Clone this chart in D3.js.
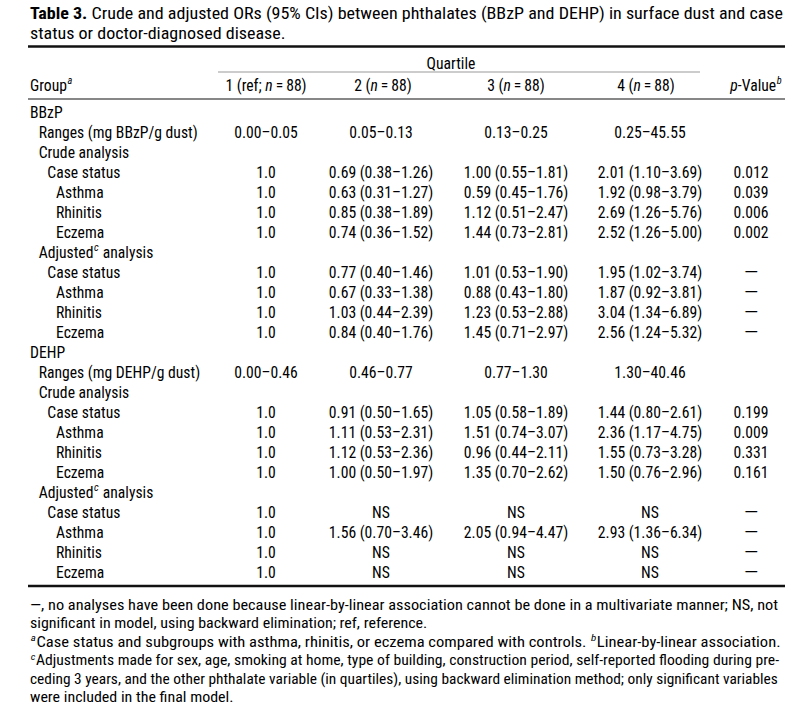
<!DOCTYPE html>
<html>
<head>
<meta charset="utf-8">
<script src="https://cdn.jsdelivr.net/npm/d3@7"></script>
<style>
  body { margin: 0; background: #fff; }
  svg text { font-family: "Roboto Condensed", "Liberation Sans Narrow", Roboto, sans-serif; fill: #000; font-weight: 400; }
</style>
</head>
<body>
<svg id="table" width="800" height="709"></svg>
<script>
// ---- Data ----
// markup: **x** = bold, *x* = italic, ^x^ = superscript (italic)
const titleLines = [
  "**Table 3.** Crude and adjusted ORs (95% CIs) between phthalates (BBzP and DEHP) in surface dust and case",
  "status or doctor-diagnosed disease."
];

const columnHeaders = ["Group^a^", "1 (ref; *n*\u2009=\u200988)", "2 (*n*\u2009=\u200988)", "3 (*n*\u2009=\u200988)", "4 (*n*\u2009=\u200988)", "*p*-Value^b^"];
const spanHeader = "Quartile";

const rowLabels = [
  "BBzP", "Ranges (mg BBzP/g dust)", "Crude analysis", "Case status", "Asthma", "Rhinitis", "Eczema",
  "Adjusted^c^ analysis", "Case status", "Asthma", "Rhinitis", "Eczema",
  "DEHP", "Ranges (mg DEHP/g dust)", "Crude analysis", "Case status", "Asthma", "Rhinitis", "Eczema",
  "Adjusted^c^ analysis", "Case status", "Asthma", "Rhinitis", "Eczema"
];
const rowIndent = [0, 1, 1, 2, 3, 3, 3, 1, 2, 3, 3, 3, 0, 1, 1, 2, 3, 3, 3, 1, 2, 3, 3, 3];

const quartile1 = [
  "", "0.00–0.05", "", "1.0", "1.0", "1.0", "1.0", "", "1.0", "1.0", "1.0", "1.0",
  "", "0.00–0.46", "", "1.0", "1.0", "1.0", "1.0", "", "1.0", "1.0", "1.0", "1.0"
];
const quartile2 = [
  "", "0.05–0.13", "", "0.69 (0.38–1.26)", "0.63 (0.31–1.27)", "0.85 (0.38–1.89)", "0.74 (0.36–1.52)",
  "", "0.77 (0.40–1.46)", "0.67 (0.33–1.38)", "1.03 (0.44–2.39)", "0.84 (0.40–1.76)",
  "", "0.46–0.77", "", "0.91 (0.50–1.65)", "1.11 (0.53–2.31)", "1.12 (0.53–2.36)", "1.00 (0.50–1.97)",
  "", "NS", "1.56 (0.70–3.46)", "NS", "NS"
];
const quartile3 = [
  "", "0.13–0.25", "", "1.00 (0.55–1.81)", "0.59 (0.45–1.76)", "1.12 (0.51–2.47)", "1.44 (0.73–2.81)",
  "", "1.01 (0.53–1.90)", "0.88 (0.43–1.80)", "1.23 (0.53–2.88)", "1.45 (0.71–2.97)",
  "", "0.77–1.30", "", "1.05 (0.58–1.89)", "1.51 (0.74–3.07)", "0.96 (0.44–2.11)", "1.35 (0.70–2.62)",
  "", "NS", "2.05 (0.94–4.47)", "NS", "NS"
];
const quartile4 = [
  "", "0.25–45.55", "", "2.01 (1.10–3.69)", "1.92 (0.98–3.79)", "2.69 (1.26–5.76)", "2.52 (1.26–5.00)",
  "", "1.95 (1.02–3.74)", "1.87 (0.92–3.81)", "3.04 (1.34–6.89)", "2.56 (1.24–5.32)",
  "", "1.30–40.46", "", "1.44 (0.80–2.61)", "2.36 (1.17–4.75)", "1.55 (0.73–3.28)", "1.50 (0.76–2.96)",
  "", "NS", "2.93 (1.36–6.34)", "NS", "NS"
];
const pValues = [
  "", "", "", "0.012", "0.039", "0.006", "0.002", "", "—", "—", "—", "—",
  "", "", "", "0.199", "0.009", "0.331", "0.161", "", "—", "—", "—", "—"
];

const footnoteLines = [
  "—, no analyses have been done because linear-by-linear association cannot be done in a multivariate manner; NS, not",
  "significant in model, using backward elimination; ref, reference.",
  "^a^Case status and subgroups with asthma, rhinitis, or eczema compared with controls. ^b^Linear-by-linear association.",
  "^c^Adjustments made for sex, age, smoking at home, type of building, construction period, self-reported flooding during pre-",
  "ceding 3 years, and the other phthalate variable (in quartiles), using backward elimination method; only significant variables",
  "were included in the final model."
];
const footnoteJustified = [true, false, true, true, true, false];

// ---- Layout ----
const svg = d3.select("#table");
const left = 30, right = 785;
const titleSize = 16.8, bodySize = 17.2, noteSize = 14.4;

const colKeys = ["q1", "q2", "q3", "q4", "p"];
const colX = d3.scaleOrdinal().domain(colKeys).range([266, 381, 516, 650, 751]);
const headX = d3.scaleOrdinal().domain(colKeys).range([266, 383, 516, 646, 756]);
const rowY = d3.scaleLinear().domain([0, rowLabels.length - 1]).range([118, 578]);
const indentX = d3.scaleLinear().domain([0, 3]).range([left, left + 26]);
const noteY = d3.scaleLinear().domain([0, footnoteLines.length - 1]).range([610, 702]);

// parse the small markup into segments
function parse(str) {
  const out = [];
  const re = /(\*\*[^*]+\*\*|\*[^*]+\*|\^[^^]+\^)/g;
  let last = 0, m;
  while ((m = re.exec(str)) !== null) {
    if (m.index > last) out.push({ t: str.slice(last, m.index) });
    const s = m[0];
    if (s.startsWith("**")) out.push({ t: s.slice(2, -2), bold: true });
    else if (s.startsWith("*")) out.push({ t: s.slice(1, -1), italic: true });
    else out.push({ t: s.slice(1, -1), sup: true });
    last = m.index + s.length;
  }
  if (last < str.length) out.push({ t: str.slice(last) });
  return out;
}

// text inside a group so it can be condensed with a plain transform
function richText(parent, str, x, y, size, anchor) {
  const g = parent.append("g").attr("transform", `translate(${x},${y})`);
  const text = g.append("text")
    .attr("font-size", size)
    .attr("text-anchor", anchor || "start");
  let shifted = false;
  parse(str).forEach(seg => {
    const ts = text.append("tspan").text(seg.t);
    if (seg.bold) ts.attr("font-weight", "bold");
    if (seg.italic) ts.attr("font-style", "italic");
    if (seg.sup) {
      ts.attr("font-style", "italic").attr("font-size", size * 0.66)
        .attr("dy", -size * 0.38).attr("dx", 0.6);
      shifted = true;
    } else if (shifted) {
      ts.attr("dy", size * 0.38).attr("dx", 0.6);
      shifted = false;
    }
  });
  return { g, text, x, y, width: () => text.node().getComputedTextLength() };
}

function condense(t, f) {
  t.g.attr("transform", `translate(${t.x},${t.y}) scale(${f},1)`);
}

// ---- Title ----
const titleG = svg.append("g");
const titleTexts = titleLines.map((l, i) => richText(titleG, l, left, 19 + i * 19.5, titleSize));
const titleF = (right - 2 - left) / titleTexts[0].width();
titleTexts.forEach(t => condense(t, titleF));

// ---- Rules ----
svg.append("line").attr("x1", left - 2).attr("x2", right).attr("y1", 46.5).attr("y2", 46.5)
  .attr("stroke", "#111").attr("stroke-width", 2.6);
svg.append("line").attr("x1", 218).attr("x2", 700).attr("y1", 72).attr("y2", 72)
  .attr("stroke", "#9a9a9a").attr("stroke-width", 1.2);
svg.append("line").attr("x1", left - 2).attr("x2", right).attr("y1", 99).attr("y2", 99)
  .attr("stroke", "#111").attr("stroke-width", 1.2);
svg.append("line").attr("x1", left - 2).attr("x2", right).attr("y1", 586).attr("y2", 586)
  .attr("stroke", "#111").attr("stroke-width", 2.6);

// ---- Body ----
const bodyG = svg.append("g");

// horizontal condensing factor from a reference label (original width ~159px)
const probe = richText(bodyG, rowLabels[1], 0, -50, bodySize);
const bodyF = 159 / probe.width();
probe.g.remove();

const headTexts = [];
headTexts.push(richText(bodyG, spanHeader, 451, 69, bodySize, "middle"));
headTexts.push(richText(bodyG, columnHeaders[0], left, 91, bodySize));
colKeys.forEach((k, i) => headTexts.push(richText(bodyG, columnHeaders[i + 1], headX(k), 91, bodySize, "middle")));
headTexts.forEach(t => condense(t, bodyF));

rowLabels.forEach((label, i) => {
  condense(richText(bodyG, label, indentX(rowIndent[i]), rowY(i), bodySize), bodyF);
});

const columns = { q1: quartile1, q2: quartile2, q3: quartile3, q4: quartile4, p: pValues };
colKeys.forEach(k => {
  columns[k].forEach((v, i) => {
    if (!v) return;
    const t = richText(bodyG, v, colX(k), rowY(i), bodySize, "middle");
    // the em dash is set wider in the original
    condense(t, v === "—" ? 1.25 : bodyF);
  });
});

// ---- Footnotes ----
const noteG = svg.append("g");
const noteTexts = footnoteLines.map((l, i) => richText(noteG, l, left, noteY(i), noteSize));
const noteRight = 778;
const fs = [];
noteTexts.forEach((t, i) => {
  if (footnoteJustified[i]) {
    const f = (noteRight - left) / t.width();
    fs.push(f);
    condense(t, f);
  }
});
const noteF = d3.mean(fs);
noteTexts.forEach((t, i) => { if (!footnoteJustified[i]) condense(t, noteF); });
</script>
</body>
</html>
